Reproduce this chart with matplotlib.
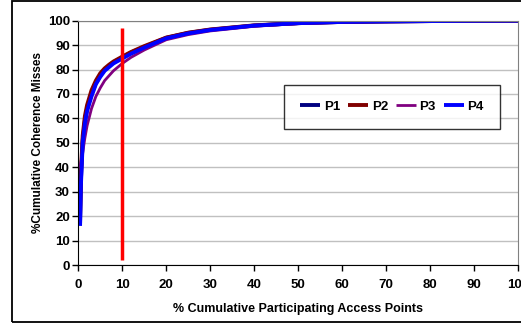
import matplotlib
matplotlib.use("Agg")
import matplotlib.pyplot as plt
from matplotlib.patches import Rectangle

x_pts = [0.4, 0.6, 1, 1.5, 2, 3, 4, 5, 6, 7, 8, 10, 12, 15, 20, 25, 30, 40, 50, 60, 70, 80, 90, 100]
p1 = [17, 35, 51, 59, 64, 70, 74.5, 77.5, 80, 81.5, 83, 85, 87, 89.3, 93, 95, 96.3, 98, 99, 99.5, 99.7, 99.85, 99.95, 100]
p2 = [20, 38, 53, 61, 65.5, 71.5, 75.5, 78.5, 80.5, 82, 83.3, 85.3, 87.2, 89.6, 93.1, 95.1, 96.4, 98.1, 99, 99.5, 99.7, 99.85, 99.95, 100]
p3 = [40, 42, 46, 52, 57, 64, 69, 72.5, 75.5, 77.5, 79.5, 82.5, 85, 88, 92.2, 94.3, 95.8, 97.7, 98.8, 99.4, 99.7, 99.85, 99.95, 100]
p4 = [16, 33, 50, 58, 63, 69, 74, 77, 79.5, 81, 82.5, 84.5, 86.5, 89, 92.8, 94.8, 96.2, 98, 99, 99.5, 99.7, 99.85, 99.95, 100]
series = [("P1", p1, "#000080"), ("P2", p2, "#800000"), ("P3", p3, "#800080"), ("P4", p4, "#0000FF")]
vline_x = [10, 10]
vline_y = [2, 97]

plt.rcParams['font.family'] = ['Liberation Sans', 'DejaVu Sans']
plt.rcParams['font.weight'] = 'bold'

fig = plt.figure(figsize=(5.21, 3.26), dpi=100)
W, H = 521, 326
ax = fig.add_axes([78.3 / W, (H - 265) / H, (518 - 78.3) / W, (265 - 20.7) / H])

# outer frame
fig.patches.append(Rectangle((12 / W, (H - 322) / H), 1.2, (321) / H, transform=fig.transFigure,
                             fill=False, edgecolor='black', linewidth=1.3, zorder=0))

for name, ys, col in series:
    ax.plot(x_pts, ys, color=col, linewidth=2.8 if name != "P3" else 2.0, label=name, solid_capstyle='butt')
ax.plot(vline_x, vline_y, color='#FF0000', linewidth=2.5, solid_capstyle='butt')

ax.set_xlim(0, 100)
ax.set_ylim(0, 100)
ax.set_xticks(range(0, 101, 10))
ax.set_yticks(range(0, 101, 10))
ax.yaxis.grid(True, color='#c0c0c0', linewidth=1)
ax.set_axisbelow(True)
ax.tick_params(direction='out', length=4, width=1, labelsize=9.5, pad=2)
for t in ax.get_xticklabels() + ax.get_yticklabels():
    t.set_fontweight('bold')
ax.tick_params(axis='x', pad=6)
ax.spines['left'].set_color('black')
ax.spines['bottom'].set_color('black')
ax.spines['top'].set_color('#808080')
ax.spines['right'].set_color('#808080')

ax.set_xlabel('% Cumulative Participating Access Points', fontsize=9, fontweight='bold', labelpad=9)
ax.set_ylabel('%Cumulative Coherence Misses', fontsize=8.5, fontweight='bold', labelpad=3)

leg = ax.legend(loc='center', bbox_to_anchor=((392 - 78.3) / (518 - 78.3), (265 - 107) / (265 - 20.7)),
                ncol=4, frameon=True, fancybox=False, edgecolor='black', fontsize=9.5,
                handlelength=1.5, handletextpad=0.3, columnspacing=0.6, borderpad=1.2,
                borderaxespad=0)
leg.get_frame().set_linewidth(1)
for t in leg.get_texts():
    t.set_fontweight('bold')

fig.savefig('out.png', dpi=100)
